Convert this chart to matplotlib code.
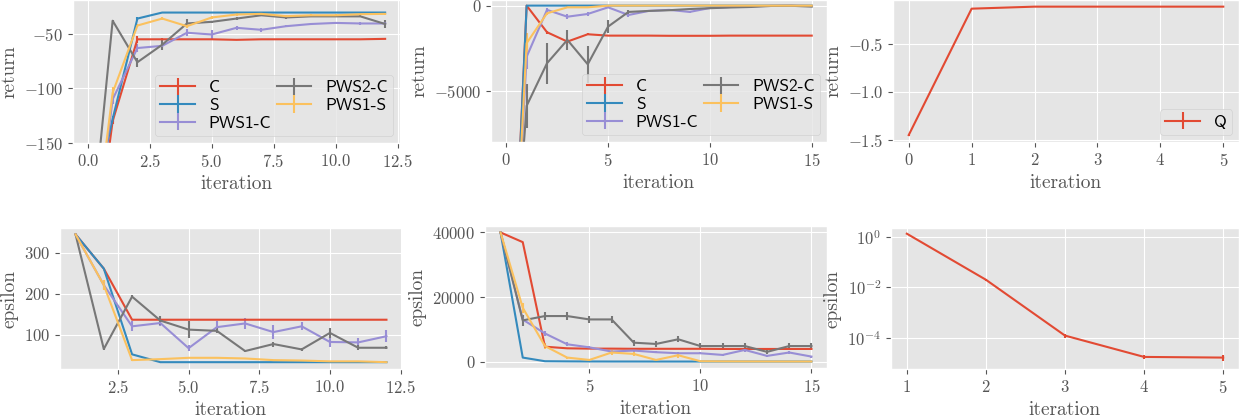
import matplotlib
matplotlib.use("Agg")
import matplotlib.pyplot as plt
from matplotlib.ticker import MultipleLocator
import numpy as np

plt.style.use("ggplot")
plt.rcParams.update({
    "font.family": "serif",
    "font.serif": ["cmr10"],
    "mathtext.fontset": "cm",
    "axes.formatter.use_mathtext": True,
    "font.size": 12,
    "axes.labelsize": 14,
    "xtick.labelsize": 12,
    "ytick.labelsize": 12,
})

labels = ["C", "S", "PWS1-C", "PWS2-C", "PWS1-S"]

# --- return, left (iterations 0..12)
x_ret_a = list(range(13))
ret_a = {
    "C":      [-300, -130, -55, -55, -55, -55, -55.5, -55, -55, -55, -55, -55, -54.6],
    "S":      [-230, -128, -36, -30.5, -30.5, -30.5, -30.5, -30.5, -30.5, -30.5, -30.5, -30.5, -30.5],
    "PWS1-C": [-290, -110, -63, -61, -49, -50.6, -44.5, -46.3, -43, -41, -40, -40.5, -40.5],
    "PWS2-C": [-267, -38, -76, -60, -40.5, -39, -36, -33, -35, -34, -34, -34, -41],
    "PWS1-S": [-285, -104, -42.4, -36, -43, -35, -32.3, -31.7, -33.8, -33, -33, -32, -31.7],
}
err_ret_a = {
    "C":      [0, 3, 3, 1, 0, 0, 0, 0, 0, 0, 0, 0, 0],
    "S":      [0, 3, 1, 0, 0, 0, 0, 0, 0, 0, 0, 0, 0],
    "PWS1-C": [0, 4, 4, 2, 3, 4, 2, 2, 1, 1, 1, 1, 1],
    "PWS2-C": [0, 1, 4, 5, 4, 1, 1, 1, 1, 1, 1, 1, 4],
    "PWS1-S": [0, 5, 1, 1, 2, 1, 1, 1, 1, 1, 1, 1, 1],
}

# --- return, middle (iterations 0..15)
x_ret_b = list(range(16))
ret_b = {
    "C":      [-26000, 0, -1560, -2110, -1680, -1760, -1760, -1760, -1770, -1770, -1770, -1760, -1760, -1760, -1760, -1760],
    "S":      [-26700, 0, 0, 0, 0, 0, 0, 0, 0, 0, 0, 0, 0, 0, 0, 0],
    "PWS1-C": [-25000, -3000, -250, -650, -490, -100, -550, -310, -250, -370, -140, -80, -40, -10, 0, -20],
    "PWS2-C": [-22200, -5880, -3380, -2010, -3440, -1230, -370, -310, -270, -200, -150, -110, -80, -20, -10, -60],
    "PWS1-S": [-25000, -2200, -450, -100, -100, 0, 0, 0, 0, 0, 0, 0, 0, 0, 0, 0],
}
err_ret_b = {
    "C":      [0, 50, 100, 200, 50, 20, 0, 0, 0, 0, 0, 0, 0, 0, 0, 0],
    "S":      [0] * 16,
    "PWS1-C": [0, 700, 100, 150, 100, 50, 100, 50, 30, 50, 30, 20, 10, 10, 10, 10],
    "PWS2-C": [0, 1300, 1200, 600, 1100, 400, 100, 50, 50, 50, 50, 50, 30, 20, 10, 20],
    "PWS1-S": [0, 600, 100, 50, 30, 10, 0, 0, 0, 0, 0, 0, 0, 0, 0, 0],
}

# --- return, right (Q)
x_q = [0, 1, 2, 3, 4, 5]
ret_q = [-1.45, -0.138, -0.117, -0.117, -0.117, -0.117]
err_q = [0.005, 0.005, 0.002, 0.002, 0.002, 0.002]

# --- epsilon, left (iterations 1..12)
x_eps_a = list(range(1, 13))
eps_a = {
    "C":      [344, 261, 137, 137, 137, 137, 137, 137, 137, 137, 137, 137],
    "S":      [344, 261, 53, 34, 34, 34, 34, 34, 34, 34, 34, 34],
    "PWS1-C": [344, 221, 121, 129, 68, 119, 128, 107, 121, 83, 82, 97],
    "PWS2-C": [344, 66, 193, 135, 113, 110, 61, 78, 65, 105, 69, 69],
    "PWS1-S": [344, 221, 39, 41.4, 44.6, 44.6, 43, 39, 38, 36, 36, 34],
}
err_eps_a = {
    "C":      [0, 0, 0, 0, 0, 0, 0, 0, 0, 0, 0, 0],
    "S":      [0, 0, 0, 0, 0, 0, 0, 0, 0, 0, 0, 0],
    "PWS1-C": [0, 10, 12, 8, 8, 15, 13, 17, 10, 12, 10, 14],
    "PWS2-C": [0, 2, 3, 12, 20, 6, 3, 6, 3, 13, 6, 4],
    "PWS1-S": [0, 12, 2, 1, 1, 1, 1, 1, 1, 1, 1, 1],
}

# --- epsilon, middle (iterations 1..15)
x_eps_b = list(range(1, 16))
eps_b = {
    "C":      [40000, 37000, 4600, 4100, 4000, 4000, 3950, 3950, 3950, 3950, 3900, 3900, 3900, 3900, 3900],
    "S":      [40000, 1230, 100, 50, 20, 10, 10, 0, 0, 0, 0, 0, 0, 0, 0],
    "PWS1-C": [40000, 13000, 8700, 5350, 4400, 3100, 3400, 2900, 2570, 2570, 2050, 3600, 1750, 2800, 1540],
    "PWS2-C": [40000, 12750, 14100, 14100, 13050, 13050, 5850, 5450, 6900, 4800, 4800, 4800, 3000, 4800, 4800],
    "PWS1-S": [40000, 16650, 4800, 1230, 500, 2800, 2360, 500, 1950, 100, 50, 30, 20, 10, 10],
}
err_eps_b = {
    "C":      [0] * 15,
    "S":      [0] * 15,
    "PWS1-C": [0, 800, 800, 600, 300, 300, 300, 300, 300, 300, 300, 500, 300, 600, 300],
    "PWS2-C": [0, 1600, 1200, 1200, 1200, 1200, 900, 900, 900, 800, 800, 800, 600, 900, 900],
    "PWS1-S": [0, 1500, 800, 300, 300, 800, 600, 300, 800, 100, 50, 30, 20, 10, 10],
}

# --- epsilon, right (Q, log scale)
x_eps_q = [1, 2, 3, 4, 5]
eps_q = [1.36, 0.02, 1.2e-4, 1.7e-5, 1.6e-5]
err_eps_q = [0.01, 0.002, 2e-5, 3e-6, 4e-6]

W, H = 1244, 418
fig = plt.figure(figsize=(W / 100, H / 100), dpi=100)


def rect(l, r, t, b):
    return [l / W, (H - b) / H, (r - l) / W, (b - t) / H]


ax1 = fig.add_axes(rect(73, 400, 0, 143))
ax2 = fig.add_axes(rect(491, 827, 0, 142))
ax3 = fig.add_axes(rect(893, 1239, 0, 142))
ax4 = fig.add_axes(rect(60, 402, 228, 369))
ax5 = fig.add_axes(rect(485, 827, 226, 368))
ax6 = fig.add_axes(rect(891, 1239, 228, 369))

for lab in labels:
    ax1.errorbar(x_ret_a, ret_a[lab], yerr=err_ret_a[lab], label=lab, lw=1.5)
    ax2.errorbar(x_ret_b, ret_b[lab], yerr=err_ret_b[lab], label=lab, lw=1.5)
    ax4.errorbar(x_eps_a, eps_a[lab], yerr=err_eps_a[lab], label=lab, lw=1.5)
    ax5.errorbar(x_eps_b, eps_b[lab], yerr=err_eps_b[lab], label=lab, lw=1.5)

ax3.errorbar(x_q, ret_q, yerr=err_q, label="Q", lw=1.5)
ax6.errorbar(x_eps_q, eps_q, yerr=err_eps_q, label="Q", lw=1.5)
ax6.set_yscale("log")

ax1.set_ylim(-150, -19)
ax2.set_ylim(-8000, 330)
ax2.yaxis.set_major_locator(MultipleLocator(5000))
ax6.set_ylim(10 ** -5.25, 10 ** 0.36)

for ax in (ax1, ax2, ax3):
    ax.set_ylabel("return")
for ax in (ax4, ax5, ax6):
    ax.set_ylabel("epsilon")
for ax in (ax1, ax2, ax3, ax4, ax5, ax6):
    ax.set_xlabel("iteration")

leg_kw = dict(prop={"family": "cmss10", "size": 12.5}, handlelength=2.0,
              handletextpad=0.8, columnspacing=0.3, labelspacing=0.15,
              borderpad=0.3, borderaxespad=0.4)
ax1.legend(ncol=2, loc="lower right", **leg_kw)
ax2.legend(ncol=2, loc="lower right", **leg_kw)
ax3.legend(loc="lower right", **leg_kw)

fig.savefig("out.png", dpi=100)
